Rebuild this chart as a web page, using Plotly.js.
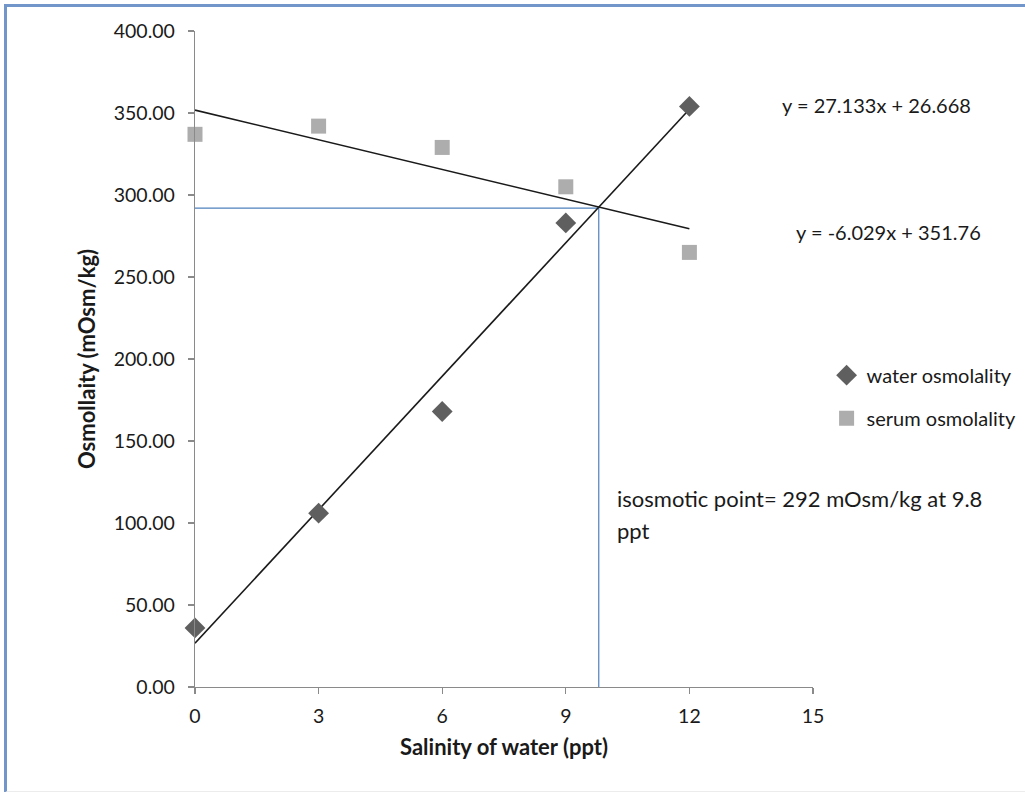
<!DOCTYPE html>
<html>
<head>
<meta charset="utf-8">
<script src="https://cdn.plot.ly/plotly-3.0.1.min.js"></script>
<style>
  html, body { margin: 0; padding: 0; background: #fff; }
  #wrap { position: relative; width: 1025px; height: 792px; }
  #chart { position: absolute; left: 0; top: 0; width: 1025px; height: 792px; }
  #frame { position: absolute; left: 4px; top: 4px; width: 1030px; height: 784px;
           border-left: 3px solid #7296c9; border-top: 3px solid #7296c9;
           border-bottom: 2px solid #ececec; pointer-events: none; }
</style>
</head>
<body>
<div id="wrap">
  <div id="chart"></div>
  <div id="frame"></div>
</div>
<script>
// Data
const salinity = [0, 3, 6, 9, 12];
const waterOsmolality = [36, 106, 168, 283, 354];
const serumOsmolality = [337, 342, 329, 305, 265];

// Trendline endpoints (from the printed regression equations)
const trendX = [0, 12];
const waterTrendY = [26.668, 352.264];
const serumTrendY = [351.76, 279.41];

// Isosmotic point guide lines
const isoGuideX = [0, 9.8, 9.8];
const isoGuideY = [292, 292, 0];

const xTicks = [0, 3, 6, 9, 12, 15];
const yTicks = [0, 50, 100, 150, 200, 250, 300, 350, 400];
const yTickLabels = ['0.00', '50.00', '100.00', '150.00', '200.00', '250.00', '300.00', '350.00', '400.00'];

const FONT = 'Lato, "Open Sans", sans-serif';
const TXT = '#1a1a1a';

const traces = [
  {
    x: isoGuideX, y: isoGuideY, mode: 'lines', type: 'scatter',
    line: { color: '#4f81bd', width: 1.2 }, showlegend: false, hoverinfo: 'skip', cliponaxis: false
  },
  {
    x: trendX, y: waterTrendY, mode: 'lines', type: 'scatter',
    line: { color: '#1a1a1a', width: 1.6 }, showlegend: false, hoverinfo: 'skip', cliponaxis: false
  },
  {
    x: trendX, y: serumTrendY, mode: 'lines', type: 'scatter',
    line: { color: '#1a1a1a', width: 1.6 }, showlegend: false, hoverinfo: 'skip', cliponaxis: false
  },
  {
    x: salinity, y: waterOsmolality, mode: 'markers', type: 'scatter',
    name: 'water osmolality', legendgroup: 'a',
    marker: { symbol: 'diamond', size: 16, color: '#5f5f5f', line: { width: 0 } },
    cliponaxis: false
  },
  {
    x: salinity, y: serumOsmolality, mode: 'markers', type: 'scatter',
    name: 'serum osmolality', legendgroup: 'b',
    marker: { symbol: 'square', size: 15, color: '#adadad', line: { width: 0 } },
    cliponaxis: false
  }
];

const layout = {
  width: 1025, height: 792,
  margin: { l: 195, r: 211.5, t: 30.7, b: 105.3, pad: 0, autoexpand: false },
  paper_bgcolor: '#ffffff', plot_bgcolor: '#ffffff',
  font: { family: FONT, size: 19.5, color: TXT },
  showlegend: true,
  legend: {
    x: 1.022, y: 0.505, xanchor: 'left', yanchor: 'top',
    font: { family: FONT, size: 20, color: TXT },
    bgcolor: 'rgba(0,0,0,0)', traceorder: 'grouped', tracegroupgap: 14,
    itemwidth: 30
  },
  xaxis: {
    range: [0, 15], tickvals: xTicks, ticktext: xTicks.map(String),
    showgrid: false, zeroline: false, showline: true, linecolor: '#8a8a8a', linewidth: 1.2,
    ticks: 'outside', ticklen: 6, tickcolor: '#8a8a8a', tickwidth: 1.2,
    tickfont: { family: FONT, size: 19.5, color: TXT },
    ticklabelstandoff: 5,
    title: { text: '<b>Salinity of water (ppt)</b>', font: { family: FONT, size: 22, color: TXT }, standoff: 14 }
  },
  yaxis: {
    range: [0, 400], tickvals: yTicks, ticktext: yTickLabels,
    showgrid: false, zeroline: false, showline: true, linecolor: '#8a8a8a', linewidth: 1.2,
    ticks: 'outside', ticklen: 6, tickcolor: '#8a8a8a', tickwidth: 1.2,
    tickfont: { family: FONT, size: 19.5, color: TXT },
    ticklabelstandoff: 9,
    title: { text: '<b>Osmollaity (mOsm/kg)</b>', font: { family: FONT, size: 22, color: TXT }, standoff: 12 }
  },
  annotations: [
    { x: 14.21, y: 354.7, xref: 'x', yref: 'y', text: 'y = 27.133x + 26.668', showarrow: false,
      xanchor: 'left', yanchor: 'middle', font: { family: FONT, size: 20, color: TXT } },
    { x: 14.55, y: 277.3, xref: 'x', yref: 'y', text: 'y = -6.029x + 351.76', showarrow: false,
      xanchor: 'left', yanchor: 'middle', font: { family: FONT, size: 20, color: TXT } },
    { x: 10.2, y: 115, xref: 'x', yref: 'y', text: 'isosmotic point= 292 mOsm/kg at 9.8', showarrow: false,
      xanchor: 'left', yanchor: 'middle', font: { family: FONT, size: 22, color: TXT } },
    { x: 10.2, y: 95.5, xref: 'x', yref: 'y', text: 'ppt', showarrow: false,
      xanchor: 'left', yanchor: 'middle', font: { family: FONT, size: 22, color: TXT } }
  ]
};

Plotly.newPlot('chart', traces, layout, { displayModeBar: false, staticPlot: true });
</script>
</body>
</html>
